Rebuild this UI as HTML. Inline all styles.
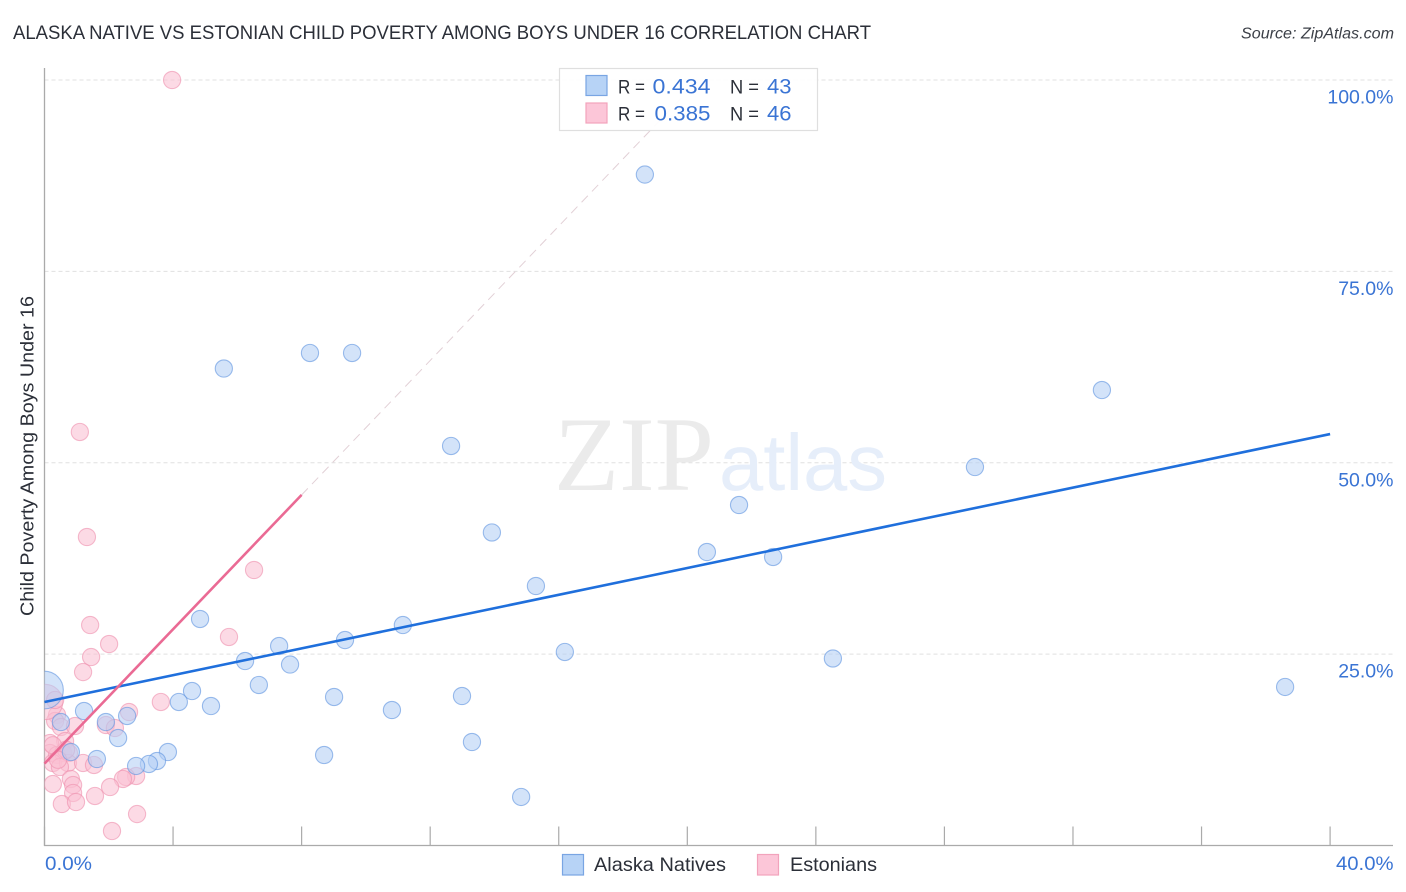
<!DOCTYPE html>
<html lang="en">
<head>
<meta charset="utf-8">
<title>Alaska Native vs Estonian Child Poverty Correlation Chart</title>
<style>
html,body{margin:0;padding:0;background:#fff;}
body{width:1406px;height:892px;overflow:hidden;}
svg{display:block;font-family:"Liberation Sans",sans-serif;}
</style>
</head>
<body>
<svg id="chart" xmlns="http://www.w3.org/2000/svg" width="1406" height="892" viewBox="0 0 1406 892">
  <defs><clipPath id="plot-clip"><rect x="44.5" y="0" width="1361" height="846"/></clipPath></defs>
  <rect x="0" y="0" width="1406" height="892" fill="#fff"/>
  <text x="13" y="39" font-size="19" fill="#2b2f38" textLength="858" lengthAdjust="spacingAndGlyphs">ALASKA NATIVE VS ESTONIAN CHILD POVERTY AMONG BOYS UNDER 16 CORRELATION CHART</text>
  <text x="1394" y="38.5" font-size="15.5" font-style="italic" fill="#3c4048" text-anchor="end" textLength="153" lengthAdjust="spacingAndGlyphs">Source: ZipAtlas.com</text>
  <g id="grid"></g>
  <g>
    <text x="554" y="490" font-family="'Liberation Serif',serif" font-size="106" fill="#ebebeb" textLength="160" lengthAdjust="spacingAndGlyphs">ZIP</text>
    <text x="719" y="490" font-size="80" fill="#e6eefa" textLength="168" lengthAdjust="spacingAndGlyphs">atlas</text>
  </g>
  <g id="axes"></g>
  <g id="points" clip-path="url(#plot-clip)"></g>
  <g id="trends"></g>
  <g id="tick-labels"></g>
  <text transform="translate(33.5,456) rotate(-90)" font-size="18" fill="#2b2f38" text-anchor="middle" textLength="320" lengthAdjust="spacingAndGlyphs">Child Poverty Among Boys Under 16</text>

  <g>
    <rect x="559.5" y="68.5" width="258" height="62" fill="#fff" fill-opacity="0.93" stroke="#dfdfdf" stroke-width="1.2"/>
    <rect x="586" y="75.5" width="21" height="20" fill="#b7d3f6" stroke="#79a5e3" stroke-width="1.2"/>
    <rect x="586" y="103" width="21" height="20" fill="#fcc6d8" stroke="#f2a3bc" stroke-width="1.2"/>
    <text x="618" y="93.5" font-size="19" fill="#2b2f38" textLength="27" lengthAdjust="spacingAndGlyphs">R =</text>
    <text x="652.5" y="93.5" font-size="21" fill="#3a74d4" textLength="58" lengthAdjust="spacingAndGlyphs">0.434</text>
    <text x="730" y="93.5" font-size="19" fill="#2b2f38" textLength="29" lengthAdjust="spacingAndGlyphs">N =</text>
    <text x="767" y="93.5" font-size="21" fill="#3a74d4" textLength="24.5" lengthAdjust="spacingAndGlyphs">43</text>
    <text x="618" y="120.5" font-size="19" fill="#2b2f38" textLength="27" lengthAdjust="spacingAndGlyphs">R =</text>
    <text x="654.5" y="120.5" font-size="21" fill="#3a74d4" textLength="56" lengthAdjust="spacingAndGlyphs">0.385</text>
    <text x="730" y="120.5" font-size="19" fill="#2b2f38" textLength="29" lengthAdjust="spacingAndGlyphs">N =</text>
    <text x="767" y="120.5" font-size="21" fill="#3a74d4" textLength="24.5" lengthAdjust="spacingAndGlyphs">46</text>
  </g>

  <g>
    <rect x="562.5" y="854.5" width="21" height="20.5" fill="#b7d3f6" stroke="#79a5e3" stroke-width="1.2"/>
    <text x="594" y="871" font-size="19.5" fill="#2b2f38" textLength="132" lengthAdjust="spacingAndGlyphs">Alaska Natives</text>
    <rect x="757.5" y="854.5" width="21" height="20.5" fill="#fcc6d8" stroke="#f2a3bc" stroke-width="1.2"/>
    <text x="790" y="871" font-size="19.5" fill="#2b2f38" textLength="87" lengthAdjust="spacingAndGlyphs">Estonians</text>
  </g>
</svg>
<script>
const alaskaX = [18.68,5.58,8.26,9.57,32.90,12.65,28.95,21.61,13.92,20.61,22.67,15.29,4.84,11.15,9.35,7.30,16.19,24.53,6.24,7.64,6.67,38.60,4.59,4.18,9.01,12.99,5.18,10.81,1.23,2.57,1.91,0.51,2.29,13.30,0.82,1.63,8.70,3.84,3.50,3.25,2.85,14.83,0];
const alaskaY = [87.65,62.31,64.34,64.34,59.50,52.19,49.44,44.48,40.89,38.34,37.69,33.90,29.59,28.80,26.84,26.06,25.28,24.43,24.10,23.64,20.97,20.71,20.18,18.75,19.40,19.53,18.22,17.70,17.57,16.92,16.13,16.13,14.04,13.52,12.21,11.30,11.82,12.21,11.04,10.65,10.39,6.34,20.31];
const alaskaWeight = [1,1,1,1,1,1,1,1,1,1,1,1,1,1,1,1,1,1,1,1,1,1,1,1,1,1,1,1,1,1,1,1,1,1,1,1,1,1,1,1,1,1,4.8];
const estonianX = [3.97,1.10,1.32,6.52,1.42,2.01,5.74,1.45,1.20,3.62,2.63,1.91,2.19,0.39,0.33,0.51,0.95,0.64,0.17,0.17,0.39,0.58,0.76,0.26,0.73,0.48,1.20,1.54,2.85,2.54,2.44,2.04,1.57,0.82,0.89,0.89,0.26,0.54,0.98,2.88,2.10,0.02,0.33,0.67,0.26,0.42];
const estonianY = [100,54.02,40.30,35.99,28.80,26.32,27.24,24.62,22.66,18.75,17.44,15.74,15.35,17.05,16.26,15.48,15.61,13.65,13.39,12.08,11.82,12.08,12.08,10.78,10.78,10.25,10.78,10.52,9.08,8.95,8.69,7.64,6.47,8.69,7.90,6.86,8.03,5.42,5.68,4.11,1.89,18.75,19.01,12.50,13.10,11.20];
const estonianWeight = [1,1,1,1,1,1,1,1,1,1,1,1,1,1,1,1,1,1,1,1,1,1,1,1,1,1,1,1,1,1,1,1,1,1,1,1,1,1,1,1,1,4.2,1,1,1,1];
const alaskaTrendX = [0,40];
const alaskaTrendY = [18.75,53.75];
const estonianTrendX = [0,8];
const estonianTrendY = [10.7,45.8];
const estonianProjectionX = [8,20.35];
const estonianProjectionY = [45.8,100];
const xTickValues = [0,4,8,12,16,20,24,28,32,36,40];
const xTickLabels = ["0.0%","40.0%"];
const xLabelValues = [0,40];
const yGridValues = [25,50,75,100];
const yTickLabels = ["25.0%","50.0%","75.0%","100.0%"];

const NS = 'http://www.w3.org/2000/svg';
function xScale(v){ return 44.5 + v * 32.14; }
function yScale(v){ return 845.5 - v * 7.655; }
function make(tag, attrs, parent){
  const el = document.createElementNS(NS, tag);
  for (const k in attrs) el.setAttribute(k, attrs[k]);
  parent.appendChild(el);
  return el;
}
const gridG = document.getElementById('grid');
const axesG = document.getElementById('axes');
const pointsG = document.getElementById('points');
const trendsG = document.getElementById('trends');
const labelsG = document.getElementById('tick-labels');

yGridValues.forEach(function(v){
  const el = make('line', {x1:44.5, x2:1393, y1:yScale(v), y2:yScale(v), stroke:'#e0e0e0', 'stroke-width':0.9, 'stroke-dasharray':'4 3'}, gridG);
  
  
});

const yAxis = make('line', {x1:44.5, x2:44.5, y1:68, y2:846, stroke:'#aaaaaa', 'stroke-width':1.3}, axesG);


const xAxis = make('line', {x1:44, x2:1393, y1:845.5, y2:845.5, stroke:'#aaaaaa', 'stroke-width':1.3}, axesG);


xTickValues.forEach(function(v){
  const el = make('line', {x1:xScale(v), x2:xScale(v), y1:826.5, y2:845.5, stroke:'#aaaaaa', 'stroke-width':1.2}, axesG);
  
  
});

function drawSeries(xs, ys, ws, fill, stroke, name){
  xs.forEach(function(x, i){
    const c = make('circle', {cx:xScale(x), cy:yScale(ys[i]), r:8.6 * Math.sqrt(ws[i]) , fill:fill, 'fill-opacity':0.58, stroke:stroke, 'stroke-opacity':0.6, 'stroke-width':1.1}, pointsG);
    
    
  });
}
drawSeries(estonianX, estonianY, estonianWeight, '#f9c0d2', '#ee8fae', 'estonian');
drawSeries(alaskaX, alaskaY, alaskaWeight, '#b4cff4', '#5d93e0', 'alaska-native');

const blueLine = make('line', {x1:xScale(alaskaTrendX[0]), y1:yScale(alaskaTrendY[0]), x2:xScale(alaskaTrendX[1]), y2:yScale(alaskaTrendY[1]), stroke:'#1f6fdc', 'stroke-width':2.6}, trendsG);


const pinkLine = make('line', {x1:xScale(estonianTrendX[0]), y1:yScale(estonianTrendY[0]), x2:xScale(estonianTrendX[1]), y2:yScale(estonianTrendY[1]), stroke:'#ea6a94', 'stroke-width':2.6}, trendsG);


const projLine = make('line', {x1:xScale(estonianProjectionX[0]), y1:yScale(estonianProjectionY[0]), x2:xScale(estonianProjectionX[1]), y2:yScale(estonianProjectionY[1]), stroke:'#e2d0d6', 'stroke-width':1, 'stroke-dasharray':'9 6'}, gridG);



yGridValues.forEach(function(v, i){
  const t = make('text', {x:1393.5, y:yScale(v) + 23.5, 'font-size':19.5, fill:'#3a74d4', 'text-anchor':'end'}, labelsG);
  t.textContent = yTickLabels[i];
  
  
});
xLabelValues.forEach(function(v, i){
  const t = make('text', {x: i === 0 ? xScale(v) + 0.5 : 1336, y:870, 'font-size':19.5, fill:'#3a74d4', textLength: i === 0 ? 47 : 57.5, lengthAdjust:'spacingAndGlyphs'}, labelsG);
  t.textContent = xTickLabels[i];
  
  
});
</script>
</body>
</html>
